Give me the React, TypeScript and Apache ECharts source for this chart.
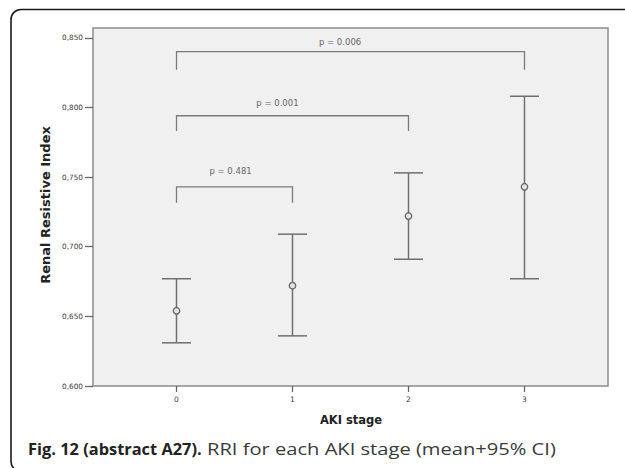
import React, { useEffect, useRef } from "react";
import * as echarts from "echarts";

const stages = [0, 1, 2, 3];
const stageLabels = ["0", "1", "2", "3"];
const means = [0.654, 0.672, 0.722, 0.743];
const lower = [0.631, 0.636, 0.691, 0.677];
const upper = [0.677, 0.709, 0.753, 0.808];

const yTicks = [0.6, 0.65, 0.7, 0.75, 0.8, 0.85];

const bracketFrom = [0, 0, 0];
const bracketTo = [1, 2, 3];
const bracketTop = [0.743, 0.794, 0.84];
const bracketEnd = [0.7315, 0.783, 0.827];
const pLabels = ["p = 0.481", "p = 0.001", "p = 0.006"];
const pLabelX = [0.466, 0.87, 1.41];
const pLabelY = [0.7545, 0.8033, 0.8473];

const captionBold = "Fig. 12 (abstract A27).";
const captionText = "RRI for each AKI stage (mean+95% CI)";

const GRAY = "#6f6f6f";

export default function App() {
  const ref = useRef<HTMLDivElement>(null);
  useEffect(() => {
    const chart = echarts.init(ref.current!, null, { renderer: "svg" });
    const errData = stages.map((s, i) => [s, lower[i], upper[i]]);
    const brData = bracketFrom.map((f, i) => [f, bracketTo[i], bracketTop[i], bracketEnd[i], pLabelX[i], pLabelY[i], i]);
    chart.setOption({
      animation: false,
      backgroundColor: "#ffffff",
      grid: {
        left: 93,
        top: 28,
        width: 515,
        height: 358,
        show: true,
        backgroundColor: "#f0f0f0",
        borderColor: "#8c8c8c",
        borderWidth: 1.5,
        containLabel: false,
      },
      xAxis: {
        type: "value",
        min: -0.72,
        max: 3.72,
        axisLine: { show: false, onZero: false },
        splitLine: { show: false },
        axisTick: { show: true, length: 6, customValues: stages, lineStyle: { color: "#666", width: 1.3 } },
        axisLabel: {
          customValues: stages,
          margin: 9,
          fontFamily: "DejaVu Sans",
          fontSize: 7.5,
          color: "#3a3a3a",
          formatter: (v: number) => stageLabels[Math.round(v)] ?? "",
        },
      },
      yAxis: {
        type: "value",
        min: 0.6,
        max: 0.857,
        axisLine: { show: false, onZero: false },
        splitLine: { show: false },
        axisTick: { show: true, length: 8, customValues: yTicks, lineStyle: { color: "#666", width: 1.3 } },
        axisLabel: {
          customValues: yTicks,
          margin: 10,
          fontFamily: "DejaVu Sans",
          fontSize: 7.3,
          color: "#3a3a3a",
          formatter: (v: number) => v.toFixed(3).replace(".", ","),
        },
      },
      series: [
        {
          type: "custom",
          data: errData,
          renderItem: (params: any, api: any) => {
            const x = api.value(0);
            const lo = api.coord([x, api.value(1)]);
            const hi = api.coord([x, api.value(2)]);
            const hw = 14.5;
            const st = { stroke: GRAY, lineWidth: 1.5 };
            return {
              type: "group",
              children: [
                { type: "line", shape: { x1: lo[0], y1: lo[1], x2: hi[0], y2: hi[1] }, style: st },
                { type: "line", shape: { x1: lo[0] - hw, y1: lo[1], x2: lo[0] + hw, y2: lo[1] }, style: st },
                { type: "line", shape: { x1: hi[0] - hw, y1: hi[1], x2: hi[0] + hw, y2: hi[1] }, style: st },
              ],
            };
          },
          z: 2,
        },
        {
          type: "scatter",
          data: stages.map((s, i) => [s, means[i]]),
          symbol: "circle",
          symbolSize: 6.5,
          itemStyle: { color: "#e4e4e4", borderColor: "#666", borderWidth: 1.3, opacity: 1 },
          z: 3,
        },
        {
          type: "custom",
          data: brData,
          renderItem: (params: any, api: any) => {
            const a = api.coord([api.value(0), api.value(2)]);
            const b = api.coord([api.value(1), api.value(2)]);
            const aEnd = api.coord([api.value(0), api.value(3)]);
            const bEnd = api.coord([api.value(1), api.value(3)]);
            const lp = api.coord([api.value(4), api.value(5)]);
            const idx = api.value(6);
            return {
              type: "group",
              children: [
                {
                  type: "polyline",
                  shape: { points: [aEnd, a, b, bEnd] },
                  style: { stroke: "#7a7a7a", lineWidth: 1.3, fill: "none" },
                },
                {
                  type: "text",
                  x: lp[0],
                  y: lp[1],
                  style: {
                    text: pLabels[idx],
                    fontFamily: "DejaVu Sans",
                    fontSize: 8.5,
                    fill: "#666",
                    align: "center",
                    verticalAlign: "middle",
                  },
                },
              ],
            };
          },
          z: 2,
        },
      ],
      graphic: [
        {
          type: "rect",
          shape: { x: 11, y: 9.5, width: 700, height: 462, r: 10 },
          style: { fill: "none", stroke: "#1a1a1a", lineWidth: 1.6 },
          silent: true,
        },
        {
          type: "text",
          x: 45,
          y: 205,
          rotation: Math.PI / 2,
          style: {
            text: "Renal Resistive Index",
            fontFamily: "DejaVu Sans",
            fontWeight: "bold",
            fontSize: 13,
            fill: "#222",
            align: "center",
            verticalAlign: "middle",
          },
        },
        {
          type: "text",
          x: 351,
          y: 420,
          style: {
            text: "AKI stage",
            fontFamily: "DejaVu Sans",
            fontWeight: "bold",
            fontSize: 11.5,
            fill: "#222",
            align: "center",
            verticalAlign: "middle",
          },
        },
        {
          type: "text",
          x: 28,
          y: 448,
          style: {
            text: captionBold,
            fontFamily: "Open Sans",
            fontWeight: "bold",
            fontSize: 16.4,
            fill: "#222",
            verticalAlign: "middle",
          },
        },
        {
          type: "text",
          x: 207,
          y: 448,
          scaleX: 1.22,
          style: {
            text: captionText,
            fontFamily: "Open Sans",
            fontSize: 16.5,
            fill: "#3a3a3a",
            verticalAlign: "middle",
          },
        },
      ],
    });
    return () => chart.dispose();
  }, []);
  return (
    <div
      ref={ref}
      style={{ position: "fixed", left: 0, top: 0, width: 625, height: 468 }}
    />
  );
}
